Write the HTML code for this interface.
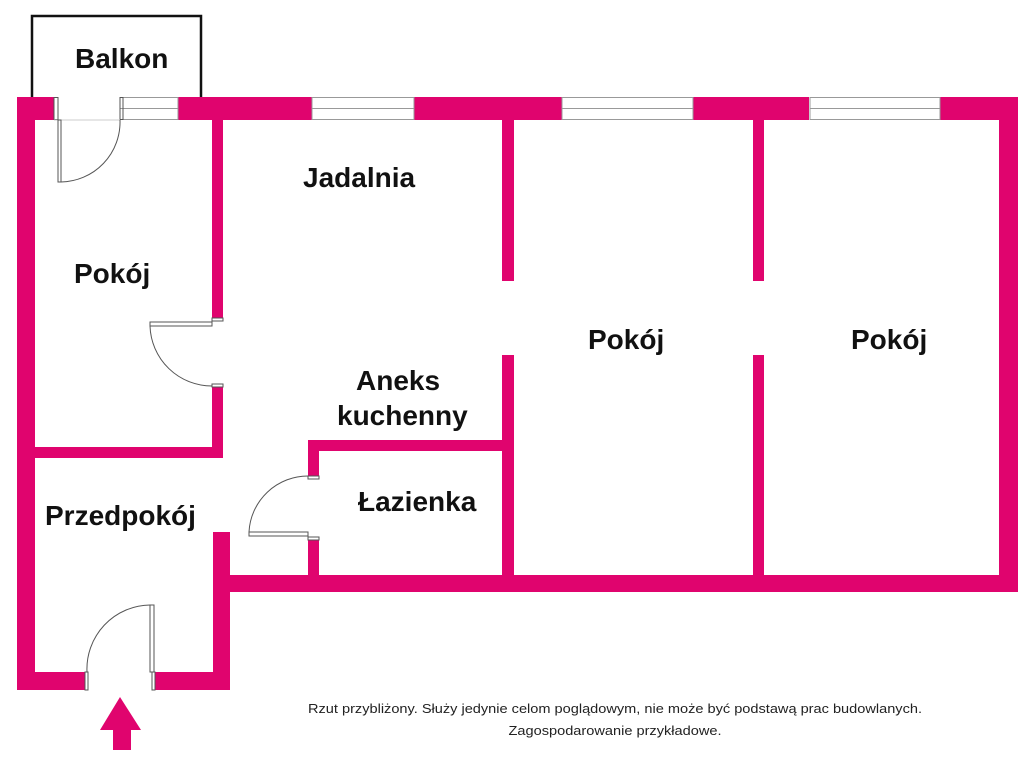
<!DOCTYPE html>
<html><head><meta charset="utf-8"><style>
html,body{margin:0;padding:0;background:#fff;}
svg{display:block;}
.l{font-family:"Liberation Sans",sans-serif;font-weight:bold;font-size:28px;fill:#111;}
</style></head><body>
<svg width="1024" height="768" viewBox="0 0 1024 768" xmlns="http://www.w3.org/2000/svg">
<g fill="#e0046e">
<rect x="17" y="97" width="37" height="23"/>
<rect x="178" y="97" width="134" height="23"/>
<rect x="414" y="97" width="148" height="23"/>
<rect x="693" y="97" width="116" height="23"/>
<rect x="940" y="97" width="78" height="23"/>
<rect x="999" y="97" width="19" height="495"/>
<rect x="213" y="575" width="805" height="17"/>
<rect x="17" y="97" width="18" height="593"/>
<rect x="17" y="672" width="68" height="18"/>
<rect x="155" y="672" width="75" height="18"/>
<rect x="213" y="532" width="17" height="158"/>
<rect x="212" y="120" width="11" height="198"/>
<rect x="212" y="387" width="11" height="71"/>
<rect x="35" y="447" width="188" height="11"/>
<rect x="502" y="120" width="12" height="161"/>
<rect x="502" y="355" width="12" height="220"/>
<rect x="753" y="120" width="11" height="161"/>
<rect x="753" y="355" width="11" height="220"/>
<rect x="308" y="440" width="206" height="11"/>
<rect x="308" y="440" width="11" height="36"/>
<rect x="308" y="540" width="11" height="35"/>
<polygon points="120,697 141,730 131,730 131,750 113,750 113,730 100,730"/>
</g>
<g fill="none" stroke="#999" stroke-width="1">
<rect x="120" y="97.5" width="58" height="22"/><line x1="120" y1="108.5" x2="178" y2="108.5"/>
<rect x="312" y="97.5" width="102" height="22"/><line x1="312" y1="108.5" x2="414" y2="108.5"/>
<rect x="562" y="97.5" width="131" height="22"/><line x1="562" y1="108.5" x2="693" y2="108.5"/>
<rect x="810" y="97.5" width="130" height="22"/><line x1="810" y1="108.5" x2="940" y2="108.5"/>
</g>
<polyline points="32,97 32,16 201,16 201,97" fill="none" stroke="#111" stroke-width="2.5"/>
<g fill="none" stroke="#555" stroke-width="1">
<rect x="54" y="97.5" width="4" height="22"/><rect x="120" y="97.5" width="3" height="22"/>
<line x1="54" y1="120" x2="120" y2="120" stroke="#ccc"/>
<rect x="58" y="120" width="3" height="62"/>
<path d="M61,182 A60,60 0 0 0 120,120"/>
<rect x="150" y="322" width="62" height="4"/>
<path d="M150,326 A62,62 0 0 0 212,386"/>
<rect x="212" y="318" width="11" height="3"/><rect x="212" y="384" width="11" height="3"/>
<rect x="249" y="532" width="59" height="4"/>
<path d="M249,532 A59,59 0 0 1 308,476"/>
<rect x="308" y="476" width="11" height="3"/><rect x="308" y="537" width="11" height="3"/>
<rect x="150" y="605" width="4" height="67"/>
<path d="M87,672 A64,64 0 0 1 150,605"/>
<rect x="85" y="672" width="3" height="18"/><rect x="152" y="672" width="3" height="18"/>
</g>
<text class="l" x="75" y="68">Balkon</text>
<text class="l" x="303" y="187">Jadalnia</text>
<text class="l" x="74" y="283">Pokój</text>
<text class="l" x="588" y="349">Pokój</text>
<text class="l" x="851" y="349">Pokój</text>
<text class="l" x="356" y="390">Aneks</text>
<text class="l" x="337" y="425">kuchenny</text>
<text class="l" x="358" y="511">Łazienka</text>
<text class="l" x="45" y="525">Przedpokój</text>
<text x="615" y="713" text-anchor="middle" font-family="Liberation Sans,sans-serif" font-size="13" fill="#222" textLength="614" lengthAdjust="spacingAndGlyphs">Rzut przybliżony. Służy jedynie celom poglądowym, nie może być podstawą prac budowlanych.</text>
<text x="615" y="735" text-anchor="middle" font-family="Liberation Sans,sans-serif" font-size="13" fill="#222" textLength="213" lengthAdjust="spacingAndGlyphs">Zagospodarowanie przykładowe.</text>
</svg>
</body></html>
